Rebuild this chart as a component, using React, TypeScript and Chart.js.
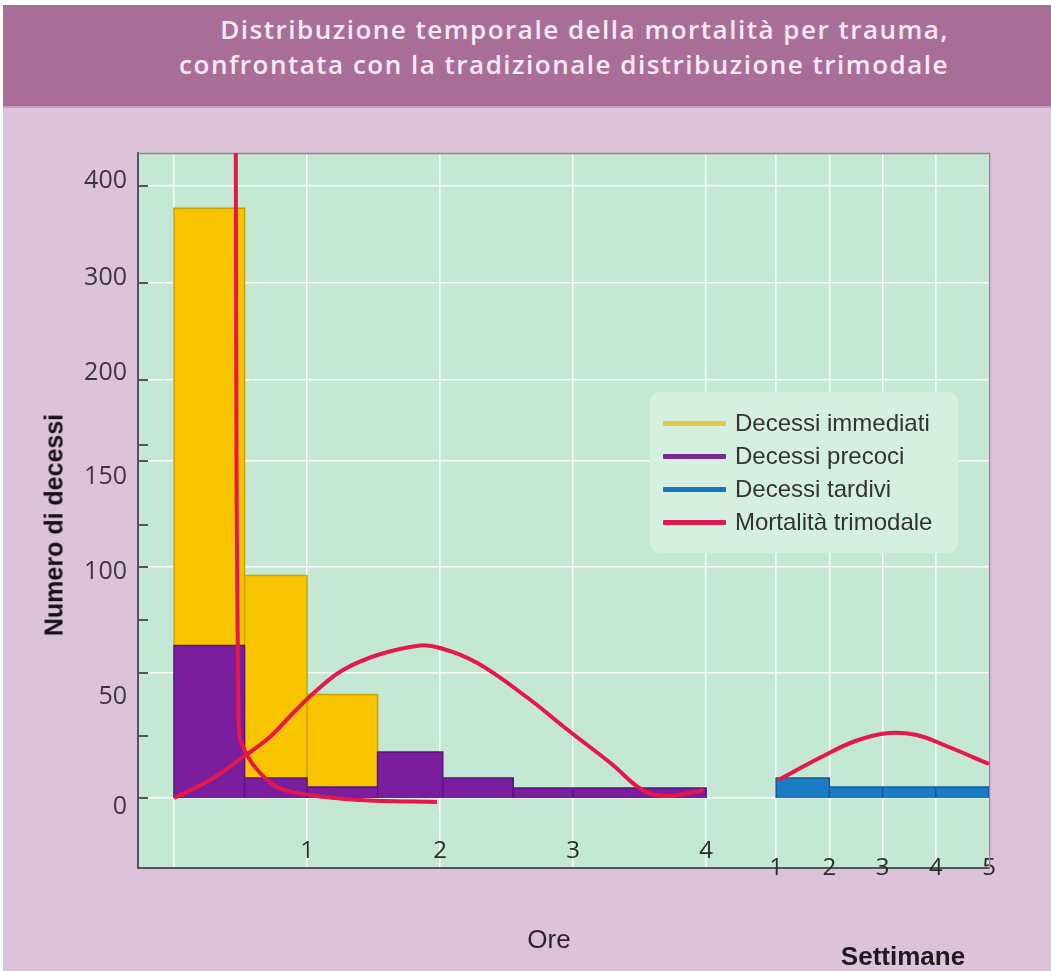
import React, { useEffect, useRef } from "react";
import { Chart, registerables } from "chart.js";

Chart.register(...registerables);

// ---------------- DATA ----------------
// Hour-bins (Ore) – early deaths (Decessi precoci)
const HOUR_BIN_EDGES = [0, 0.53, 1, 1.53, 2.02, 2.55, 3, 4];
const EARLY_DEATHS = [63, 8, 4.4, 18.4, 8, 4, 4];
// Immediate deaths (Decessi immediati), stacked above the first early-death bins
const IMMEDIATE_BIN_EDGES = [0, 0.53, 1, 1.53];
const IMMEDIATE_DEATHS = [314, 88, 37];
// Week-bins (Settimane) – late deaths (Decessi tardivi)
const WEEK_BIN_EDGES = [1, 2, 3, 4, 5];
const LATE_DEATHS = [8, 4.4, 4.4, 4.4];

// Traditional trimodal mortality curve (three pieces)
const TRIMODAL_1_HOURS = [0.464, 0.47, 0.474, 0.485, 0.504, 0.556, 0.647, 0.774, 1.023, 1.398, 1.977];
const TRIMODAL_1_DEATHS = [470, 141, 103, 31, 22.4, 16.4, 10, 4.4, 1.2, -0.8, -1.6];
const TRIMODAL_2_HOURS = [0, 0.27, 0.52, 0.72, 0.895, 1.075, 1.27, 1.53, 1.85, 2.0, 2.28, 2.65, 2.96, 3.29, 3.52, 3.69, 3.87, 3.98];
const TRIMODAL_2_DEATHS = [0, 7.2, 16.4, 24.4, 34, 43.2, 51.4, 58.5, 63, 61.8, 54.7, 40.4, 27.2, 13.6, 3.2, 0.8, 2, 3.2];
const TRIMODAL_3_WEEKS = [1.04, 1.85, 2.49, 3.11, 3.64, 4.2, 5.0];
const TRIMODAL_3_DEATHS = [7.2, 16.4, 22.8, 26, 25.2, 20.8, 13.6];

// Tick labels
const HOUR_TICKS = [1, 2, 3, 4];
const WEEK_TICKS = [1, 2, 3, 4, 5];
const Y_TICKS = [0, 50, 100, 150, 200, 300, 400];
const Y_MINOR_TICKS = [25, 75, 120, 160];

const TITLE_LINES = [
  "Distribuzione temporale della mortalità per trauma,",
  "confrontata con la tradizionale distribuzione trimodale",
];
const LEGEND_LABELS = ["Decessi immediati", "Decessi precoci", "Decessi tardivi", "Mortalità trimodale"];

// ---------------- AXIS GEOMETRY (non-linear drawn scale) ----------------
const Y_KNOT_UNITS = [0, 125, 231, 337, 418, 515, 612]; // scale units for Y_TICKS
const Y_LABEL_NUDGE: Record<number, number> = { 0: 9, 50: 24, 100: 5, 150: 16, 200: -7, 300: -5, 400: -5 };
const Y_MIN = -70;
const Y_MAX = 645;
const X_MIN = -0.2707;
const WEEK_ORIGIN = 4.526; // hour-axis units where week 1 sits
const WEEK_SPAN = 0.4; // hour-axis units per week

function toUnits(v: number): number {
  if (v <= 0) return v * (Y_KNOT_UNITS[1] / Y_TICKS[1]);
  const n = Y_TICKS.length;
  if (v >= Y_TICKS[n - 1]) {
    const slope = (Y_KNOT_UNITS[n - 1] - Y_KNOT_UNITS[n - 2]) / (Y_TICKS[n - 1] - Y_TICKS[n - 2]);
    return Y_KNOT_UNITS[n - 1] + (v - Y_TICKS[n - 1]) * slope;
  }
  for (let i = 0; i < n - 1; i++) {
    if (v <= Y_TICKS[i + 1]) {
      const t = (v - Y_TICKS[i]) / (Y_TICKS[i + 1] - Y_TICKS[i]);
      return Y_KNOT_UNITS[i] + t * (Y_KNOT_UNITS[i + 1] - Y_KNOT_UNITS[i]);
    }
  }
  return 0;
}
const weekX = (w: number) => WEEK_ORIGIN + (w - 1) * WEEK_SPAN;
const hourX = (h: number) => h;
const X_MAX = weekX(WEEK_TICKS[WEEK_TICKS.length - 1]);

// ---------------- STYLE ----------------
const PAGE_BG = "#dcc3d9";
const HEADER_BG = "#a96e97";
const PLOT_BG = "#c4e8d3";
const LEGEND_BG = "#d5efe1";
const YELLOW = "#f8c400";
const YELLOW_EDGE = "#c9a204";
const PURPLE = "#7a1e9e";
const PURPLE_EDGE = "#5a1480";
const BLUE = "#1b7bc4";
const BLUE_EDGE = "#0f5c99";
const RED = "#e5174b";
const AXIS = "#555555";
const GRID = "rgba(255,255,255,0.9)";
const TICK_FONT = "'Open Sans', sans-serif";

function histogram(edges: number[], values: number[], xmap: (n: number) => number) {
  const pts: { x: number; y: number }[] = [];
  for (let i = 0; i < values.length; i++) {
    const x0 = xmap(edges[i]);
    const x1 = xmap(edges[i + 1]);
    const y = toUnits(values[i]);
    pts.push({ x: x0, y: 0 }, { x: x0, y }, { x: x1, y }, { x: x1, y: 0 });
  }
  return pts;
}

const curve = (xs: number[], ys: number[], xmap: (n: number) => number) =>
  xs.map((x, i) => ({ x: xmap(x), y: toUnits(ys[i]) }));

const plotFrame = {
  id: "plotFrame",
  beforeDraw(chart: any) {
    const { ctx, chartArea: a } = chart;
    ctx.save();
    ctx.fillStyle = PLOT_BG;
    ctx.fillRect(a.left, a.top, a.right - a.left, a.bottom - a.top);
    ctx.restore();
  },
  beforeDatasetsDraw(chart: any) {
    const { ctx, chartArea: a } = chart;
    const ys = chart.scales.y;
    ctx.save();
    ctx.strokeStyle = "#8a8a8a";
    ctx.lineWidth = 1.5;
    ctx.beginPath();
    ctx.moveTo(a.left, a.top + 0.5);
    ctx.lineTo(a.right + 0.5, a.top + 0.5);
    ctx.lineTo(a.right + 0.5, a.bottom);
    ctx.stroke();
    ctx.strokeStyle = AXIS;
    ctx.lineWidth = 2;
    [...Y_TICKS, ...Y_MINOR_TICKS].forEach((v) => {
      const py = Math.round(ys.getPixelForValue(toUnits(v)));
      ctx.beginPath();
      ctx.moveTo(a.left, py);
      ctx.lineTo(a.left + 10, py);
      ctx.stroke();
    });
    ctx.restore();
  },
};

const redLine = (label: string, data: { x: number; y: number }[], smooth: "monotone" | "default") => ({
  label,
  data,
  borderColor: RED,
  borderWidth: 4,
  pointRadius: 0,
  cubicInterpolationMode: smooth,
  tension: 0.4,
  fill: false,
  clip: 0,
  order: 0,
});

function ChartCanvas() {
  const ref = useRef<HTMLCanvasElement | null>(null);
  useEffect(() => {
    if (!ref.current) return;
    const totals = IMMEDIATE_DEATHS.map((v, i) => v + EARLY_DEATHS[i]);
    const majorUnits = Y_TICKS.map(toUnits);
    const gridTicks = [0, ...HOUR_TICKS, ...WEEK_TICKS.map(weekX)];

    const chart = new Chart(ref.current, {
      type: "line",
      data: {
        datasets: [
          redLine(LEGEND_LABELS[3] + " (immediata)", curve(TRIMODAL_1_HOURS, TRIMODAL_1_DEATHS, hourX), "monotone"),
          redLine(LEGEND_LABELS[3] + " (precoce)", curve(TRIMODAL_2_HOURS, TRIMODAL_2_DEATHS, hourX), "default"),
          redLine(LEGEND_LABELS[3] + " (tardiva)", curve(TRIMODAL_3_WEEKS, TRIMODAL_3_DEATHS, weekX), "default"),
          {
            label: LEGEND_LABELS[1],
            data: histogram(HOUR_BIN_EDGES, EARLY_DEATHS, hourX),
            borderColor: PURPLE_EDGE,
            backgroundColor: PURPLE,
            borderWidth: 1.5,
            pointRadius: 0,
            tension: 0,
            fill: "origin",
            order: 1,
          },
          {
            label: LEGEND_LABELS[2],
            data: histogram(WEEK_BIN_EDGES, LATE_DEATHS, weekX),
            borderColor: BLUE_EDGE,
            backgroundColor: BLUE,
            borderWidth: 1.5,
            pointRadius: 0,
            tension: 0,
            fill: "origin",
            order: 1,
          },
          {
            label: LEGEND_LABELS[0],
            data: histogram(IMMEDIATE_BIN_EDGES, totals, hourX),
            borderColor: YELLOW_EDGE,
            backgroundColor: YELLOW,
            borderWidth: 1.5,
            pointRadius: 0,
            tension: 0,
            fill: "origin",
            order: 2,
          },
        ],
      },
      options: {
        responsive: false,
        animation: false,
        events: [],
        layout: { padding: { left: 0, top: 153, right: 62, bottom: 103 } },
        plugins: { legend: { display: false }, title: { display: false }, tooltip: { enabled: false } },
        scales: {
          x: {
            type: "linear",
            position: "bottom",
            min: X_MIN,
            max: X_MAX,
            weight: 0,
            afterBuildTicks: (s: any) => {
              s.ticks = gridTicks.map((v) => ({ value: v }));
            },
            afterFit: (s: any) => {
              s.height = 0;
            },
            grid: { color: GRID, lineWidth: 1.5, drawTicks: false },
            border: { display: true, color: AXIS, width: 2 },
            ticks: {
              autoSkip: false,
              maxRotation: 0,
              minRotation: 0,
              mirror: true,
              padding: 2,
              color: "#2d2d2d",
              font: { family: TICK_FONT, size: 24 },
              callback: (value: any) => (HOUR_TICKS.includes(value) ? String(value) : ""),
            },
          },
          xw: {
            type: "linear",
            position: "bottom",
            min: X_MIN,
            max: X_MAX,
            weight: 1,
            afterBuildTicks: (s: any) => {
              s.ticks = WEEK_TICKS.map((w) => ({ value: weekX(w) }));
            },
            afterFit: (s: any) => {
              s.height = 0;
            },
            grid: { display: false, drawTicks: false },
            border: { display: false },
            ticks: {
              autoSkip: false,
              maxRotation: 0,
              minRotation: 0,
              mirror: true,
              padding: -15,
              color: "#2d2d2d",
              font: { family: TICK_FONT, size: 24 },
              callback: (_v: any, i: number) => String(WEEK_TICKS[i]),
            },
          },
          y: {
            type: "linear",
            position: "left",
            min: Y_MIN,
            max: Y_MAX,
            weight: 0,
            afterBuildTicks: (s: any) => {
              s.ticks = majorUnits.map((v) => ({ value: v }));
            },
            afterFit: (s: any) => {
              s.width = 0;
            },
            grid: { color: GRID, lineWidth: 1.5, drawTicks: false },
            border: { display: true, color: AXIS, width: 2 },
            ticks: { display: false },
          },
          yl: {
            type: "linear",
            position: "left",
            min: Y_MIN,
            max: Y_MAX,
            weight: 1,
            afterBuildTicks: (s: any) => {
              s.ticks = Y_TICKS.map((v) => ({ value: toUnits(v) - Y_LABEL_NUDGE[v] }));
            },
            afterFit: (s: any) => {
              s.width = 138;
            },
            grid: { display: false, drawTicks: false },
            border: { display: false },
            ticks: {
              padding: 11,
              color: "#3d3540",
              font: { family: TICK_FONT, size: 25 },
              callback: (_v: any, i: number) => String(Y_TICKS[i]),
            },
          },
        },
      } as any,
      plugins: [plotFrame],
    });
    return () => chart.destroy();
  }, []);
  return <canvas ref={ref} width={1051} height={971} style={{ position: "absolute", left: 0, top: 0, width: 1051, height: 971 }} />;
}

const LEGEND_COLORS = ["#e6c84a", "#7b2799", "#1a76bd", "#e2174b"];

export default function App() {
  return (
    <div style={{ position: "fixed", left: 0, top: 0, width: 1051, height: 971, background: "#ffffff", overflow: "hidden" }}>
      <div style={{ position: "absolute", left: 3, top: 5, right: 0, bottom: 0, background: PAGE_BG }} />
      <div style={{ position: "absolute", left: 3, top: 5, right: 0, height: 101, background: HEADER_BG }} />
      <div style={{ position: "absolute", left: 3, top: 106, right: 0, height: 2, background: "#c99bbb" }} />
      <div
        style={{
          position: "absolute",
          right: 102,
          top: 12,
          textAlign: "right",
          color: "#fbe9f5",
          fontFamily: "'Open Sans', sans-serif",
          fontWeight: 600,
          fontSize: 26,
          letterSpacing: 1.5,
          lineHeight: "35px",
          whiteSpace: "nowrap",
        }}
      >
        {TITLE_LINES.map((t) => (
          <div key={t}>{t}</div>
        ))}
      </div>
      <ChartCanvas />
      <div
        style={{
          position: "absolute",
          left: 54,
          top: 525,
          transform: "translate(-50%, -50%) rotate(-90deg)",
          fontFamily: "'Liberation Sans', Arial, sans-serif",
          fontWeight: 700,
          fontSize: 25,
          color: "#141014",
          whiteSpace: "nowrap",
          lineHeight: 1,
        }}
      >
        Numero di decessi
      </div>
      <div
        style={{
          position: "absolute",
          left: 549,
          top: 939,
          transform: "translate(-50%, -50%)",
          fontFamily: "'Liberation Sans', Arial, sans-serif",
          fontSize: 26,
          color: "#2b2530",
          lineHeight: 1,
          whiteSpace: "nowrap",
        }}
      >
        Ore
      </div>
      <div
        style={{
          position: "absolute",
          left: 903,
          top: 956,
          transform: "translate(-50%, -50%)",
          fontFamily: "'Liberation Sans', Arial, sans-serif",
          fontWeight: 700,
          fontSize: 26,
          color: "#1e1a20",
          lineHeight: 1,
          whiteSpace: "nowrap",
        }}
      >
        Settimane
      </div>
      <div
        style={{
          position: "absolute",
          left: 650,
          top: 392,
          width: 308,
          height: 161,
          borderRadius: 10,
          background: LEGEND_BG,
        }}
      >
        {LEGEND_LABELS.map((label, i) => (
          <div
            key={label}
            style={{
              position: "absolute",
              left: 0,
              top: 31 + i * 33 - 14,
              height: 28,
              display: "flex",
              alignItems: "center",
              whiteSpace: "nowrap",
            }}
          >
            <div style={{ marginLeft: 13, width: 63, height: 5, background: LEGEND_COLORS[i], borderRadius: 1 }} />
            <div
              style={{
                marginLeft: 9,
                fontFamily: "'Liberation Sans', Arial, sans-serif",
                fontSize: 24,
                color: "#333333",
                lineHeight: "28px",
              }}
            >
              {label}
            </div>
          </div>
        ))}
      </div>
    </div>
  );
}
